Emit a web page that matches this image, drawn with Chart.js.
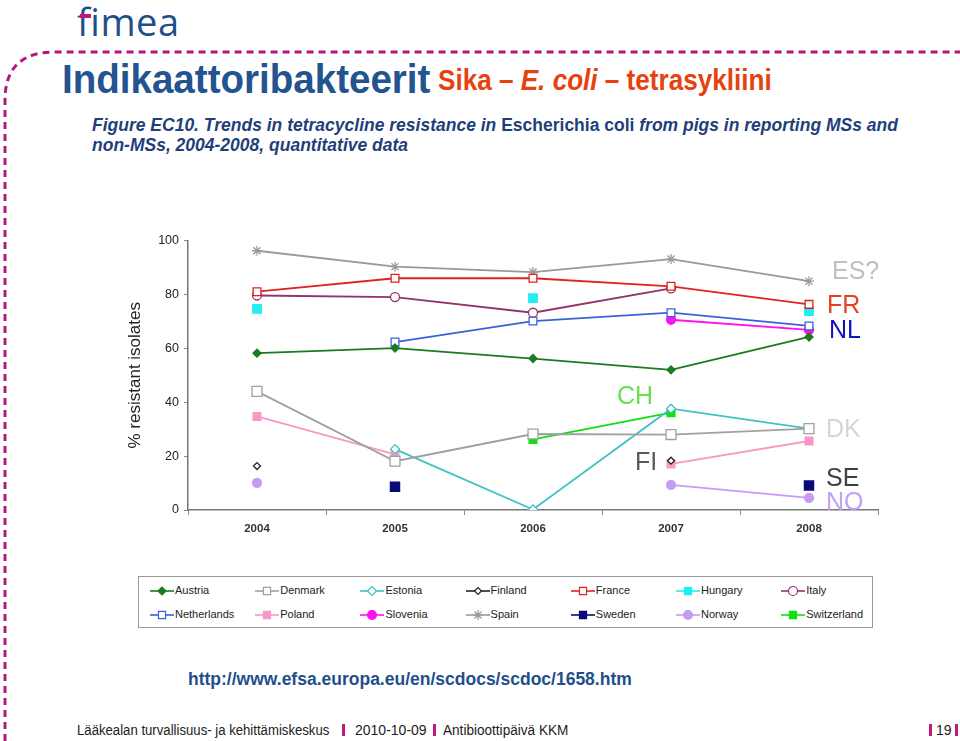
<!DOCTYPE html>
<html>
<head>
<meta charset="utf-8">
<script src="https://cdn.jsdelivr.net/npm/chart.js@4.4.1/dist/chart.umd.min.js"></script>
<style>
  body { margin: 0; width: 960px; height: 741px; background: #fff; position: relative; overflow: hidden; font-family: "Liberation Sans", Arial, sans-serif; }
  .abs { position: absolute; white-space: nowrap; }
  .narrow { display: inline-block; transform-origin: 0 50%; }
  #chartBox { position: absolute; left: 120px; top: 228px; width: 770px; height: 315px; }
  .note { position: absolute; font-size: 25px; line-height: 25px; }
  #legend { position: absolute; left: 138px; top: 576px; width: 733px; height: 50px; border: 1px solid #9a9a9a; }
  .item { position: absolute; font-size: 11px; color: #222; height: 14px; line-height: 14px; }
  .item canvas { vertical-align: middle; margin-right: 1px; }
  .sep { position: absolute; width: 3px; height: 12px; background: #c0187e; }
  .foot { position: absolute; font-size: 14px; color: #222; white-space: nowrap; line-height: 16px; }
</style>
</head>
<body>
<svg class="abs" style="left:0;top:0" width="960" height="741">
  <path d="M5 741 L5 100 Q5 52 55 52 L960 52" fill="none" stroke="#b8167f" stroke-width="3" stroke-dasharray="7 5"/>
</svg>

<div class="abs" style="left:77px;top:2px;font-family:'Open Sans',sans-serif;font-size:38px;line-height:38px;color:#1f4f8b;font-weight:500;letter-spacing:0.5px">fimea</div>
<div class="abs" style="left:80px;top:14px;width:11px;height:4px;background:#c0187e"></div>

<div class="abs" style="left:62px;top:56px;font-size:41px;font-weight:bold;color:#23548f">
  <span class="narrow" style="transform:scaleX(0.94)">Indikaattoribakteerit</span>
</div>
<div class="abs" style="left:438px;top:64px;font-size:29px;font-weight:bold;color:#e5420f">
  <span class="narrow" style="transform:scaleX(0.9)">Sika – <i>E. coli</i> – tetrasykliini</span>
</div>

<div class="abs" style="left:92px;top:115px;font-size:17.5px;font-weight:bold;color:#1f3f7a;line-height:20px">
  <i>Figure EC10. Trends in tetracycline resistance in</i> Escherichia coli <i>from pigs in reporting MSs and</i><br>
  <i>non-MSs, 2004-2008, quantitative data</i>
</div>

<div id="chartBox"><canvas id="chart"></canvas></div>

<div class="note" style="left:832px;top:258px;color:#c0c0c0">ES?</div>
<div class="note" style="left:827px;top:292px;color:#e8401c">FR</div>
<div class="note" style="left:829px;top:317px;color:#1212c0">NL</div>
<div class="note" style="left:617px;top:383px;color:#66e050">CH</div>
<div class="note" style="left:826px;top:416px;color:#d6d6d6">DK</div>
<div class="note" style="left:635px;top:449px;color:#595959">FI</div>
<div class="note" style="left:826px;top:465px;color:#404040">SE</div>
<div class="note" style="left:826px;top:489px;color:#c0a0f8">NO</div>

<div id="legend"></div>

<div class="abs" style="left:188px;top:669px;font-size:17.5px;font-weight:bold;color:#1f4f8b">http://www.efsa.europa.eu/en/scdocs/scdoc/1658.htm</div>

<div class="foot" style="left:77px;top:722px"><span class="narrow" style="transform:scaleX(0.94)">Lääkealan turvallisuus- ja kehittämiskeskus</span></div>
<div class="sep" style="left:342px;top:724px"></div>
<div class="foot" style="left:355px;top:722px">2010-10-09</div>
<div class="sep" style="left:433px;top:724px"></div>
<div class="foot" style="left:443px;top:722px"><span class="narrow" style="transform:scaleX(0.97)">Antibioottipäivä KKM</span></div>
<div class="sep" style="left:929px;top:724px"></div>
<div class="foot" style="left:936px;top:722px">19</div>
<div class="sep" style="left:955px;top:724px"></div>

<script>
const years = ["2004", "2005", "2006", "2007", "2008"];
const yTicks = [0, 20, 40, 60, 80, 100];

const austria = [58.2, 60.1, 56.2, 52.0, 64.2];
const denmark = [44.0, 18.1, 28.2, 28.0, 30.2];
const estonia = [null, 22.6, 0.2, 37.6, 30.2];
const finland = [16.3, null, null, 18.3, null];
const france = [81.0, 86.0, 86.0, 83.0, 76.3];
const hungary = [74.6, null, 78.6, null, 73.8];
const italy = [79.6, 79.0, 73.2, 82.2, null];
const netherlands = [null, 62.3, 70.1, 73.2, 68.3];
const poland = [34.7, 20.6, null, 17.1, 25.6];
const slovenia = [null, null, null, 70.6, 66.8];
const spain = [96.2, 90.3, 88.3, 93.1, 84.9];
const sweden = [null, 8.6, null, null, 9.1];
const norway = [10.1, null, null, 9.3, 4.5];
const switzerland = [null, null, 26.2, 36.1, null];

const series = [
  { label: "Austria", data: austria, color: "#1e7a1e", style: "rectRot", r: 4, fill: true },
  { label: "Denmark", data: denmark, color: "#a0a0a0", style: "rect", r: 7, fill: false },
  { label: "Estonia", data: estonia, color: "#3cc4c4", style: "rectRot", r: 4.5, fill: false },
  { label: "Finland", data: finland, color: "#222222", style: "rectRot", r: 3.5, fill: false, noLine: true },
  { label: "France", data: france, color: "#e02222", style: "rect", r: 5.5, fill: false },
  { label: "Hungary", data: hungary, color: "#22eeee", style: "rect", r: 6, fill: true, noLine: true },
  { label: "Italy", data: italy, color: "#94336a", style: "circle", r: 4.5, fill: false },
  { label: "Netherlands", data: netherlands, color: "#3a62d8", style: "rect", r: 5.5, fill: false },
  { label: "Poland", data: poland, color: "#f799c8", style: "rect", r: 5.5, fill: true },
  { label: "Slovenia", data: slovenia, color: "#ff10f0", style: "circle", r: 4.5, fill: true },
  { label: "Spain", data: spain, color: "#999999", style: "star", r: 5, fill: false },
  { label: "Sweden", data: sweden, color: "#0a0a78", style: "rect", r: 6.5, fill: true },
  { label: "Norway", data: norway, color: "#c49cf4", style: "circle", r: 4.5, fill: true },
  { label: "Switzerland", data: switzerland, color: "#10e010", style: "rect", r: 5.5, fill: true }
];

const datasets = series.map((s) => ({
  label: s.label,
  data: s.data,
  borderColor: s.color,
  backgroundColor: s.color,
  borderWidth: 1.8,
  showLine: !s.noLine,
  spanGaps: false,
  pointStyle: s.style,
  pointRadius: s.r,
  pointBorderWidth: 1.3,
  pointBorderColor: s.color,
  pointBackgroundColor: s.fill ? s.color : "#ffffff",
  tension: 0
}));

new Chart(document.getElementById("chart"), {
  type: "line",
  data: { labels: years, datasets: datasets },
  options: {
    responsive: true,
    maintainAspectRatio: false,
    animation: false,
    layout: { padding: { top: 11, right: 12, left: 0, bottom: 0 } },
    plugins: { legend: { display: false }, tooltip: { enabled: false } },
    scales: {
      x: {
        offset: true,
        grid: { offset: true, drawOnChartArea: false, drawTicks: true, tickLength: 5, color: "#888" },
        border: { color: "#777", width: 1.5 },
        ticks: { color: "#333", font: { family: "Liberation Sans", size: 11.5, weight: "bold" }, padding: 7 },
        afterFit: (scale) => { scale.height = 33; }
      },
      y: {
        min: 0,
        max: 100,
        afterBuildTicks: (scale) => { scale.ticks = yTicks.map((v) => ({ value: v })); },
        grid: { drawOnChartArea: false, drawTicks: true, tickLength: 4, color: "#888" },
        border: { color: "#777", width: 1.5 },
        ticks: { color: "#222", font: { family: "Liberation Sans", size: 12.5 }, padding: 5 },
        title: { display: true, text: "% resistant isolates", color: "#222", font: { family: "Liberation Sans", size: 17 }, padding: { top: 5, bottom: 0 } },
        afterFit: (scale) => { scale.width = 68; }
      }
    }
  }
});

// legend box, laid out in 7 columns like the original
const legend = document.getElementById("legend");
series.forEach((s, i) => {
  const col = i % 7, row = Math.floor(i / 7);
  const item = document.createElement("div");
  item.className = "item";
  item.style.left = (11 + col * 105.2) + "px";
  item.style.top = (6 + row * 24) + "px";
  const c = document.createElement("canvas");
  c.width = 24; c.height = 12;
  const ctx = c.getContext("2d");
  ctx.strokeStyle = s.color;
  ctx.lineWidth = 1.6;
  ctx.beginPath(); ctx.moveTo(0, 6); ctx.lineTo(24, 6); ctx.stroke();
  ctx.fillStyle = s.fill ? s.color : "#fff";
  ctx.lineWidth = 1.2;
  Chart.helpers.drawPoint(ctx, { pointStyle: s.style, radius: Math.min(s.r, 5), borderWidth: 1.2, rotation: 0 }, 12, 6);
  item.appendChild(c);
  item.appendChild(document.createTextNode(s.label));
  legend.appendChild(item);
});
</script>
</body>
</html>
